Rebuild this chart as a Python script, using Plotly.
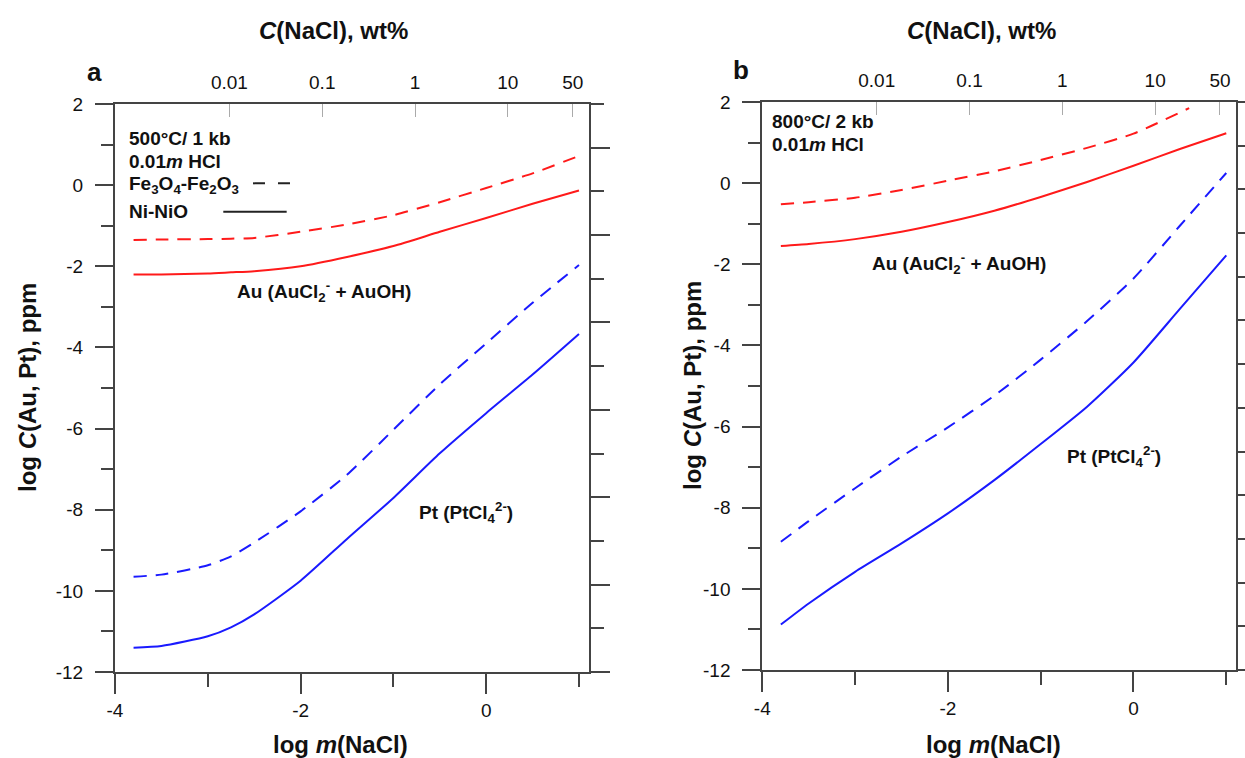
import numpy as np
import plotly.graph_objects as go

# ---------------- data ----------------
# panel a: 500 °C / 1 kb
xa = [-3.8, -3.5, -3.0, -2.75, -2.5, -2.0, -1.5, -1.0, -0.5, 0.0, 0.5, 1.0]
au_hm_a = [-1.35, -1.34, -1.33, -1.32, -1.30, -1.15, -0.97, -0.74, -0.42, -0.07, 0.29, 0.72]
au_nno_a = [-2.20, -2.20, -2.18, -2.15, -2.12, -2.00, -1.77, -1.50, -1.15, -0.81, -0.46, -0.13]
pt_hm_a = [-9.65, -9.60, -9.37, -9.15, -8.81, -8.04, -7.14, -6.03, -4.91, -3.90, -2.90, -1.97]
pt_nno_a = [-11.40, -11.36, -11.12, -10.90, -10.58, -9.75, -8.72, -7.71, -6.61, -5.62, -4.67, -3.67]

# panel b: 800 °C / 2 kb
xb = [-3.8, -3.5, -3.0, -2.5, -2.0, -1.5, -1.0, -0.5, 0.0, 0.5, 1.0]
au_hm_b_x = [-3.8, -3.5, -3.0, -2.5, -2.0, -1.5, -1.0, -0.5, 0.0, 0.6]
au_hm_b = [-0.52, -0.47, -0.36, -0.17, 0.06, 0.29, 0.57, 0.87, 1.22, 1.85]
au_nno_b = [-1.55, -1.50, -1.38, -1.20, -0.96, -0.68, -0.34, 0.03, 0.43, 0.84, 1.23]
pt_hm_b = [-8.84, -8.33, -7.52, -6.74, -6.02, -5.24, -4.35, -3.40, -2.35, -1.05, 0.25]
pt_nno_b = [-10.88, -10.36, -9.58, -8.88, -8.14, -7.32, -6.43, -5.51, -4.42, -3.10, -1.78]

# axes
x_major = [-4, -2, 0]
x_minor = [-3, -1, 1]
y_major = [-12, -10, -8, -6, -4, -2, 0, 2]
y_minor = [-11, -9, -7, -5, -3, -1, 1]
wt_labels = ["0.01", "0.1", "1", "10", "50"]
wt_values = [0.01, 0.1, 1, 10, 50]
wt_pos = [float(np.log10(w * 10 / 58.443)) for w in wt_values]
# right-hand frame ticks: 13 equal divisions of the frame height
right_major = [2 - 14 * k / 13 for k in range(1, 14, 2)]
right_minor = [2 - 14 * k / 13 for k in range(0, 13, 2)]

RED = "#ff1a1a"
BLUE = "#1a1aff"
AX = "#444444"
FONT = "Liberation Sans, Arial, sans-serif"
DASH = "13px,9px"

fig = go.Figure()

def add_pair(xs_hm, y_hm, xs_nno, y_nno, color, xa_, ya_):
    fig.add_trace(go.Scatter(x=xs_hm, y=y_hm, mode="lines", xaxis=xa_, yaxis=ya_,
                             line=dict(color=color, width=2, dash=DASH, shape="spline", smoothing=0.6)))
    fig.add_trace(go.Scatter(x=xs_nno, y=y_nno, mode="lines", xaxis=xa_, yaxis=ya_,
                             line=dict(color=color, width=2, shape="spline", smoothing=0.6)))

# panel a: Au on (x, y), Pt on the overlaying (x3, y2) axes which share the same ranges
add_pair(xa, au_hm_a, xa, au_nno_a, RED, "x", "y")
add_pair(xa, pt_hm_a, xa, pt_nno_a, BLUE, "x3", "y2")
# panel b
add_pair(au_hm_b_x, au_hm_b, xb, au_nno_b, RED, "x2", "y3")
add_pair(xb, pt_hm_b, xb, pt_nno_b, BLUE, "x4", "y4")

XR = [-4, 1.108]
YR = [-12, 2]
TF = dict(size=19, color="#111", family=FONT)

def xbottom(domain, anchor):
    return dict(domain=domain, anchor=anchor, range=XR, showline=True, linecolor=AX, linewidth=2,
                ticks="outside", tickvals=x_major, ticktext=[str(v) for v in x_major],
                ticklen=20, tickwidth=2, tickcolor=AX, ticklabelstandoff=0, automargin=False,
                minor=dict(tickvals=x_minor, ticklen=13, tickwidth=2, tickcolor=AX, ticks="outside", showgrid=False),
                showgrid=False, zeroline=False, tickfont=TF)

def xtop(overlay, anchor):
    return dict(overlaying=overlay, anchor=anchor, side="top", range=XR, showline=True, linecolor=AX,
                linewidth=2, ticks="inside", tickvals=wt_pos, ticktext=wt_labels, ticklen=13,
                tickwidth=1, tickcolor="#aaaaaa", ticklabelstandoff=5, showgrid=False, zeroline=False,
                automargin=False, tickfont=TF)

def yleft(domain, anchor):
    return dict(domain=domain, anchor=anchor, range=YR, showline=True, linecolor=AX, linewidth=2,
                ticks="outside", tickvals=y_major, ticktext=[str(v) for v in y_major],
                ticklen=18, tickwidth=2, tickcolor=AX, ticklabelstandoff=8, automargin=False,
                minor=dict(tickvals=y_minor, ticklen=12, tickwidth=2, tickcolor=AX, ticks="outside", showgrid=False),
                showgrid=False, zeroline=False, tickfont=TF)

def yright(overlay, anchor):
    return dict(overlaying=overlay, anchor=anchor, side="right", range=YR, showline=True,
                linecolor=AX, linewidth=2, ticks="outside", tickvals=right_major, ticklen=19,
                tickwidth=2, tickcolor=AX, showticklabels=False, automargin=False,
                minor=dict(tickvals=right_minor, ticklen=13, tickwidth=2, tickcolor=AX, ticks="outside", showgrid=False),
                showgrid=False, zeroline=False)

W, H = 1245, 758
dxa = [115 / W, 589 / W]
dya = [(H - 672) / H, (H - 104) / H]
dxb = [762.3 / W, 1236.3 / W]
dyb = [(H - 670) / H, (H - 102) / H]

fig.update_layout(
    width=W, height=H, margin=dict(l=0, r=0, t=0, b=0, autoexpand=False),
    paper_bgcolor="white", plot_bgcolor="white", showlegend=False,
    font=dict(family=FONT, color="#111"),
    xaxis=xbottom(dxa, "y"), yaxis=yleft(dya, "x"),
    xaxis3=xtop("x", "y"), yaxis2=yright("y", "x"),
    xaxis2=xbottom(dxb, "y3"), yaxis3=yleft(dyb, "x2"),
    xaxis4=xtop("x2", "y3"), yaxis4=yright("y3", "x2"),
)

ann = []
def txt(text, x, y, xref, yref, size=19, xanchor="left", yanchor="middle", angle=0):
    ann.append(dict(text=text, x=x, y=y, xref=xref, yref=yref, showarrow=False, xanchor=xanchor,
                    yanchor=yanchor, textangle=angle, font=dict(size=size, family=FONT, color="#111")))

# panel a texts
txt("<b>500°C/ 1 kb</b>", -3.87, 1.155, "x", "y")
txt("<b>0.01<i>m</i> HCl</b>", -3.87, 0.578, "x", "y")
txt("<b>Fe<sub>3</sub>O<sub>4</sub>-Fe<sub>2</sub>O<sub>3</sub></b>", -3.87, 0.0, "x", "y")
txt("<b>Ni-NiO</b>", -3.87, -0.655, "x", "y")
txt("<b>Au (AuCl<sub>2</sub><sup>-</sup> + AuOH)</b>", -2.71, -2.63, "x", "y")
txt("<b>Pt (PtCl<sub>4</sub><sup>2-</sup>)</b>", -0.75, -8.07, "x", "y")
# panel b texts
txt("<b>800°C/ 2 kb</b>", -3.92, 1.51, "x2", "y3")
txt("<b>0.01<i>m</i> HCl</b>", -3.92, 0.95, "x2", "y3")
txt("<b>Au (AuCl<sub>2</sub><sup>-</sup> + AuOH)</b>", -2.84, -1.98, "x2", "y3")
txt("<b>Pt (PtCl<sub>4</sub><sup>2-</sup>)</b>", -0.74, -6.74, "x2", "y3")

# titles (paper coords)
def ptxt(text, px, py, size, angle=0):
    txt(text, px / W, 1 - py / H, "paper", "paper", size=size, xanchor="center", yanchor="middle", angle=angle)

ptxt("<b><i>C</i>(NaCl), wt%</b>", 333, 30, 24)
ptxt("<b><i>C</i>(NaCl), wt%</b>", 981, 30, 24)
ptxt("<b>log <i>m</i>(NaCl)</b>", 340, 744, 24)
ptxt("<b>log <i>m</i>(NaCl)</b>", 993, 744, 24)
ptxt("<b>log <i>C</i>(Au, Pt), ppm</b>", 27, 388, 24, angle=-90)
ptxt("<b>log <i>C</i>(Au, Pt), ppm</b>", 692, 386, 24, angle=-90)
ptxt("<b>a</b>", 94, 72, 26)
ptxt("<b>b</b>", 741, 70, 26)

fig.update_layout(annotations=ann)

# legend keys in panel a
fig.add_shape(type="line", xref="x", yref="y", x0=-2.513, x1=-2.114, y0=0.045, y1=0.045,
              line=dict(color="#222", width=2, dash="12px,13px"))
fig.add_shape(type="line", xref="x", yref="y", x0=-2.833, x1=-2.150, y0=-0.655, y1=-0.655,
              line=dict(color="#222", width=2))

fig.write_html("out.html")
